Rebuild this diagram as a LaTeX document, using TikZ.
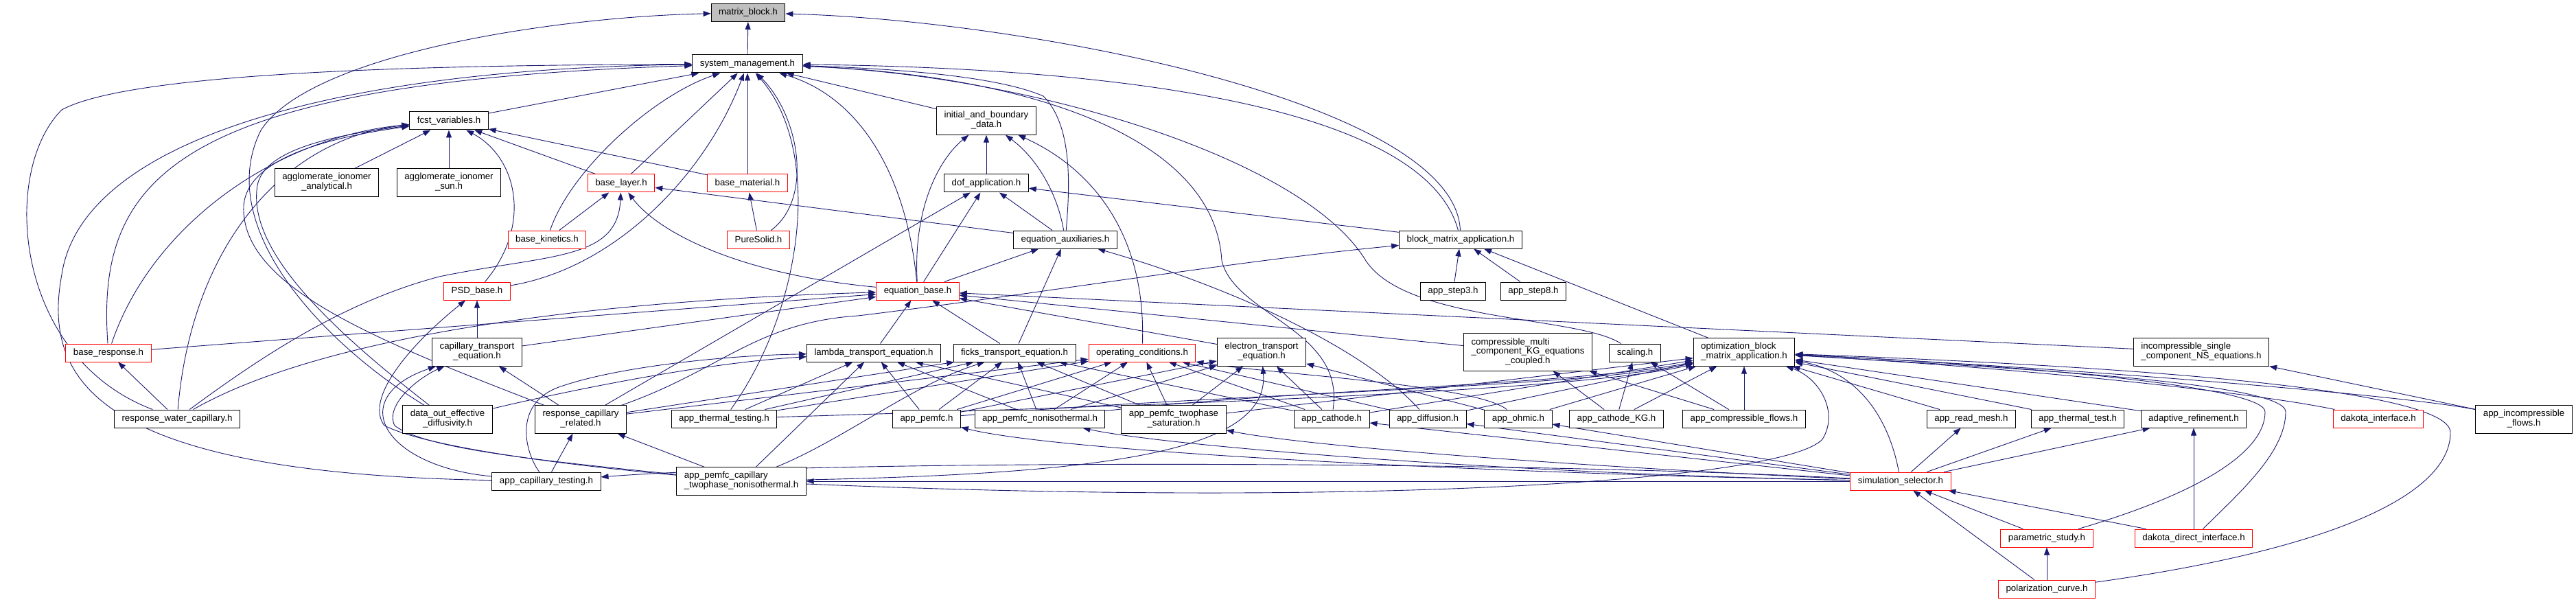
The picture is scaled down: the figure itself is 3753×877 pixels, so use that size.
\documentclass[tikz,border=0pt]{standalone}
\usepackage{fontspec}
\setmainfont{Liberation Sans}
\usetikzlibrary{arrows.meta}
\pgfdeclarelayer{edges}
\pgfsetlayers{edges,main}
\definecolor{edgeblue}{HTML}{191970}
\definecolor{hdrred}{HTML}{FF0000}
\definecolor{hdrgray}{HTML}{BFBFBF}
\newcommand{\twol}[2]{\begin{tabular}{@{}l@{}}#1\\\multicolumn{1}{@{}c@{}}{#2}\end{tabular}}
\newcommand{\threel}[3]{\begin{tabular}{@{}l@{}}#1\\#2\\\multicolumn{1}{@{}c@{}}{#3}\end{tabular}}
\begin{document}
\begin{tikzpicture}[>={Triangle[length=11pt,width=8pt]}, x=1pt, y=-1pt,
  hdr/.style={draw=black, line width=1pt, fill=white, inner xsep=11pt, inner ysep=6.5pt,
    minimum height=26pt, font=\fontsize{13.3}{13.5}\selectfont},
  trunc/.style={hdr, draw=hdrred},
  dep/.style={->, draw=edgeblue, line width=0.9pt}]
  \useasboundingbox (0,0) rectangle (3753,877);
  % Fichier de depart et premiers niveaux
  \node[hdr, fill=hdrgray] (mb) at (1090,18.5) {matrix\_block.h};
  \node[hdr] (sm) at (1089,93) {system\_management.h};
  \node[hdr] (fcst) at (654,176) {fcst\_variables.h};
  \node[hdr] (ibd) at (1437,176) {\twol{initial\_and\_boundary}{\_data.h}};
  \node[hdr] (aia) at (476,266) {\twol{agglomerate\_ionomer}{\_analytical.h}};
  \node[hdr] (ais) at (654,266) {\twol{agglomerate\_ionomer}{\_sun.h}};
  \node[trunc] (blay) at (905,267) {base\_layer.h};
  \node[trunc] (bmat) at (1089,267) {base\_material.h};
  \node[hdr] (dof) at (1437,267) {dof\_application.h};
  \node[trunc] (bkin) at (797,349) {base\_kinetics.h};
  \node[trunc] (pure) at (1105,349) {PureSolid.h};
  \node[hdr] (eqaux) at (1552,349) {equation\_auxiliaries.h};
  \node[hdr] (bma) at (2128,349) {block\_matrix\_application.h};
  \node[trunc] (psd) at (695,424) {PSD\_base.h};
  \node[trunc] (eqb) at (1337,424) {equation\_base.h};
  \node[hdr] (step3) at (2117,424) {app\_step3.h};
  \node[hdr] (step8) at (2234,424) {app\_step8.h};
  % Equations
  \node[trunc] (bresp) at (158,514) {base\_response.h};
  \node[hdr] (capeq) at (695,513) {\twol{capillary\_transport}{\_equation.h}};
  \node[hdr] (lam) at (1273,514) {lambda\_transport\_equation.h};
  \node[hdr] (ficks) at (1478,514) {ficks\_transport\_equation.h};
  \node[trunc] (opc) at (1664,514) {operating\_conditions.h};
  \node[hdr] (elec) at (1838,513) {\twol{electron\_transport}{\_equation.h}};
  \node[hdr] (cmkg) at (2226,513) {\threel{compressible\_multi}{\_component\_KG\_equations}{\_coupled.h}};
  \node[hdr] (scal) at (2382,514) {scaling.h};
  \node[hdr] (optb) at (2541,513) {\twol{optimization\_block}{\_matrix\_application.h}};
  \node[hdr] (incns) at (3207,513) {\twol{incompressible\_single}{\_component\_NS\_equations.h}};
  % Applications
  \node[hdr] (rwc) at (258,610) {response\_water\_capillary.h};
  \node[hdr] (dout) at (652,611) {\twol{data\_out\_effective}{\_diffusivity.h}};
  \node[hdr] (rcr) at (846,611) {\twol{response\_capillary}{\_related.h}};
  \node[hdr] (thtest) at (1055,610) {app\_thermal\_testing.h};
  \node[hdr] (pemfc) at (1350,610) {app\_pemfc.h};
  \node[hdr] (pnoniso) at (1515,610) {app\_pemfc\_nonisothermal.h};
  \node[hdr] (ptwo) at (1710,611) {\twol{app\_pemfc\_twophase}{\_saturation.h}};
  \node[hdr] (cath) at (1940,610) {app\_cathode.h};
  \node[hdr] (diff) at (2080,610) {app\_diffusion.h};
  \node[hdr] (ohm) at (2212,610) {app\_ohmic.h};
  \node[hdr] (cathkg) at (2355,610) {app\_cathode\_KG.h};
  \node[hdr] (compfl) at (2541,610) {app\_compressible\_flows.h};
  \node[hdr] (rmesh) at (2872,610) {app\_read\_mesh.h};
  \node[hdr] (therm) at (3027,610) {app\_thermal\_test.h};
  \node[hdr] (adapt) at (3196,610) {adaptive\_refinement.h};
  \node[trunc] (dint) at (3465,610) {dakota\_interface.h};
  \node[hdr] (incfl) at (3677,611) {\twol{app\_incompressible}{\_flows.h}};
  \node[hdr] (captest) at (796,701) {app\_capillary\_testing.h};
  \node[hdr] (pcap) at (1080,701) {\twol{app\_pemfc\_capillary}{\_twophase\_nonisothermal.h}};
  \node[trunc] (simsel) at (2769,701) {simulation\_selector.h};
  \node[trunc] (param) at (2982,784) {parametric\_study.h};
  \node[trunc] (ddir) at (3196,784) {dakota\_direct\_interface.h};
  \node[trunc] (polar) at (2982,858) {polarization\_curve.h};

  \begin{pgfonlayer}{edges}
  % vers matrix_block
  \draw[dep] (sm) -- (mb);
  \draw[dep] (bma) .. controls (2120,150) and (1500,30) .. (mb);
  \draw[dep] (dout) .. controls (470,500) and (310,330) .. (380,190) .. controls (450,80) and (800,25) .. (mb);
  % vers system_management
  \draw[dep] (fcst) -- (sm);
  \draw[dep] (blay) -- (sm);
  \draw[dep] (bkin) .. controls (830,250) and (950,140) .. (sm);
  \draw[dep] (bmat) -- (sm);
  \draw[dep] (pure) .. controls (1185,290) and (1165,170) .. (sm);
  \draw[dep] (psd) .. controls (900,390) and (1030,250) .. (sm);
  \draw[dep] (ibd) -- (sm);
  \draw[dep] (eqb) .. controls (1320,250) and (1250,140) .. (sm);
  \draw[dep] (eqaux) .. controls (1560,260) and (1560,180) .. (1520,140) .. controls (1450,110) and (1300,100) .. (sm);
  \draw[dep] (bma) .. controls (2080,170) and (1700,100) .. (sm);
  \draw[dep] (scal) .. controls (2300,460) and (2050,470) .. (1990,380) .. controls (1900,230) and (1500,110) .. (sm);
  \draw[dep] (cath) .. controls (1960,480) and (1800,460) .. (1780,380) .. controls (1770,200) and (1500,110) .. (sm);
  \draw[dep] (thtest) .. controls (1170,450) and (1200,220) .. (sm);
  \draw[dep] (bresp) .. controls (140,260) and (250,120) .. (sm);
  \draw[dep] (rwc) .. controls (20,520) and (0,250) .. (90,160) .. controls (200,100) and (700,95) .. (sm);
  \draw[dep] (captest) .. controls (150,690) and (60,560) .. (90,400) .. controls (120,200) and (500,100) .. (sm);
  % vers fcst_variables
  \draw[dep] (aia) -- (fcst);
  \draw[dep] (ais) -- (fcst);
  \draw[dep] (psd) .. controls (775,330) and (755,230) .. (fcst);
  \draw[dep] (blay) -- (fcst);
  \draw[dep] (bmat) -- (fcst);
  \draw[dep] (bresp) .. controls (220,330) and (400,200) .. (fcst);
  \draw[dep] (rwc) .. controls (280,350) and (420,200) .. (fcst);
  \draw[dep] (dout) .. controls (470,470) and (360,360) .. (375,270) .. controls (385,215) and (500,195) .. (fcst);
  \draw[dep] (rcr) .. controls (560,500) and (350,420) .. (355,300) .. controls (360,230) and (480,200) .. (fcst);
  % vers base_layer et base_material
  \draw[dep] (bkin) -- (blay);
  \draw[dep] (rwc) .. controls (380,520) and (500,440) .. (640,403) .. controls (800,370) and (900,380) .. (blay);
  \draw[dep] (eqb) .. controls (1080,400) and (960,340) .. (blay);
  \draw[dep] (eqaux) -- (blay);
  \draw[dep] (pure) -- (bmat);
  % vers PSD_base
  \draw[dep] (capeq) -- (psd);
  \draw[dep] (pcap) .. controls (800,675) and (620,650) .. (560,620) .. controls (530,580) and (600,500) .. (psd);
  % vers initial_and_boundary_data et dof_application
  \draw[dep] (dof) -- (ibd);
  \draw[dep] (eqb) .. controls (1330,300) and (1370,230) .. (ibd);
  \draw[dep] (eqaux) .. controls (1540,280) and (1510,230) .. (ibd);
  \draw[dep] (opc) .. controls (1670,330) and (1580,240) .. (ibd);
  \draw[dep] (eqb) -- (dof);
  \draw[dep] (eqaux) -- (dof);
  \draw[dep] (bma) -- (dof);
  \draw[dep] (rcr) -- (dof);
  % vers equation_auxiliaries
  \draw[dep] (eqb) -- (eqaux);
  \draw[dep] (ficks) -- (eqaux);
  \draw[dep] (diff) .. controls (1990,510) and (1800,420) .. (eqaux);
  % vers equation_base
  \draw[dep] (bresp) -- (eqb);
  \draw[dep] (rwc) .. controls (450,500) and (800,440) .. (eqb);
  \draw[dep] (capeq) -- (eqb);
  \draw[dep] (lam) -- (eqb);
  \draw[dep] (ficks) -- (eqb);
  \draw[dep] (elec) -- (eqb);
  \draw[dep] (cmkg) -- (eqb);
  \draw[dep] (incns) -- (eqb);
  % vers block_matrix_application
  \draw[dep] (step3) -- (bma);
  \draw[dep] (step8) -- (bma);
  \draw[dep] (optb) -- (bma);
  \draw[dep] (rcr) .. controls (1050,540) and (1100,470) .. (1250,460) .. controls (1500,430) and (1800,380) .. (bma);
  % reponses et capillarite
  \draw[dep] (rwc) -- (bresp);
  \draw[dep] (captest) .. controls (560,680) and (500,580) .. (capeq);
  \draw[dep] (pcap) .. controls (800,672) and (620,655) .. (575,620) .. controls (560,590) and (610,550) .. (capeq);
  \draw[dep] (rcr) -- (capeq);
  \draw[dep] (captest) -- (rcr);
  \draw[dep] (pcap) -- (rcr);
  % vers lambda_transport_equation
  \draw[dep] (captest) .. controls (765,660) and (745,585) .. (820,562) .. controls (900,535) and (1050,518) .. (lam);
  \draw[dep] (thtest) -- (lam);
  \draw[dep] (pemfc) -- (lam);
  \draw[dep] (pnoniso) -- (lam);
  \draw[dep] (ptwo) -- (lam);
  \draw[dep] (pcap) -- (lam);
  \draw[dep] (dout) .. controls (760,585) and (1000,530) .. (lam);
  % vers ficks_transport_equation
  \draw[dep] (thtest) -- (ficks);
  \draw[dep] (pemfc) -- (ficks);
  \draw[dep] (pnoniso) -- (ficks);
  \draw[dep] (ptwo) -- (ficks);
  \draw[dep] (pcap) .. controls (1230,640) and (1330,560) .. (ficks);
  \draw[dep] (rcr) -- (ficks);
  \draw[dep] (cath) -- (ficks);
  % vers operating_conditions
  \draw[dep] (thtest) -- (opc);
  \draw[dep] (pemfc) -- (opc);
  \draw[dep] (pnoniso) -- (opc);
  \draw[dep] (ptwo) -- (opc);
  \draw[dep] (cath) -- (opc);
  \draw[dep] (diff) -- (opc);
  \draw[dep] (ohm) .. controls (2150,560) and (1850,545) .. (opc);
  \draw[dep] (rcr) -- (opc);
  % vers electron_transport_equation
  \draw[dep] (pnoniso) -- (elec);
  \draw[dep] (ptwo) -- (elec);
  \draw[dep] (pcap) .. controls (1600,690) and (1850,660) .. (elec);
  \draw[dep] (cath) -- (elec);
  \draw[dep] (ohm) -- (elec);
  \draw[dep] (pemfc) -- (elec);
  % KG et scaling
  \draw[dep] (cathkg) -- (cmkg);
  \draw[dep] (compfl) -- (cmkg);
  \draw[dep] (cathkg) -- (scal);
  \draw[dep] (compfl) -- (scal);
  % vers optimization_block_matrix_application
  \draw[dep] (thtest) .. controls (1700,590) and (2300,570) .. (optb);
  \draw[dep] (pemfc) .. controls (1750,575) and (2300,565) .. (optb);
  \draw[dep] (pnoniso) .. controls (1850,570) and (2300,560) .. (optb);
  \draw[dep] (ptwo) -- (optb);
  \draw[dep] (pcap) .. controls (2000,740) and (2600,700) .. (2655,640) .. controls (2680,600) and (2650,550) .. (optb);
  \draw[dep] (cath) -- (optb);
  \draw[dep] (diff) -- (optb);
  \draw[dep] (ohm) -- (optb);
  \draw[dep] (cathkg) -- (optb);
  \draw[dep] (compfl) -- (optb);
  \draw[dep] (rmesh) -- (optb);
  \draw[dep] (therm) -- (optb);
  \draw[dep] (adapt) -- (optb);
  \draw[dep] (dint) .. controls (3300,575) and (3000,540) .. (optb);
  \draw[dep] (incfl) .. controls (3500,575) and (3000,535) .. (optb);
  \draw[dep] (param) .. controls (3200,720) and (3300,660) .. (3300,600) .. controls (3300,560) and (2900,530) .. (optb);
  \draw[dep] (ddir) .. controls (3260,720) and (3330,660) .. (3330,600) .. controls (3330,555) and (2900,535) .. (optb);
  \draw[dep] (polar) .. controls (3400,800) and (3570,720) .. (3570,630) .. controls (3570,560) and (3000,530) .. (optb);
  \draw[dep] (simsel) .. controls (2750,600) and (2700,540) .. (optb);
  % partie droite
  \draw[dep] (incfl) -- (incns);
  \draw[dep] (simsel) -- (adapt);
  \draw[dep] (ddir) -- (adapt);
  \draw[dep] (param) -- (simsel);
  \draw[dep] (ddir) -- (simsel);
  \draw[dep] (polar) -- (simsel);
  \draw[dep] (polar) -- (param);
  % simulation_selector vers les applications
  \draw[dep] (simsel) .. controls (2200,690) and (1550,660) .. (pemfc);
  \draw[dep] (simsel) .. controls (2200,690) and (1700,650) .. (pnoniso);
  \draw[dep] (simsel) .. controls (2300,680) and (1900,650) .. (ptwo);
  \draw[dep] (simsel) -- (pcap);
  \draw[dep] (simsel) .. controls (2200,670) and (1200,670) .. (captest);
  \draw[dep] (simsel) -- (cath);
  \draw[dep] (simsel) -- (diff);
  \draw[dep] (simsel) -- (ohm);
  \draw[dep] (simsel) -- (rmesh);
  \draw[dep] (simsel) -- (therm);
  \end{pgfonlayer}
\end{tikzpicture}
\end{document}
